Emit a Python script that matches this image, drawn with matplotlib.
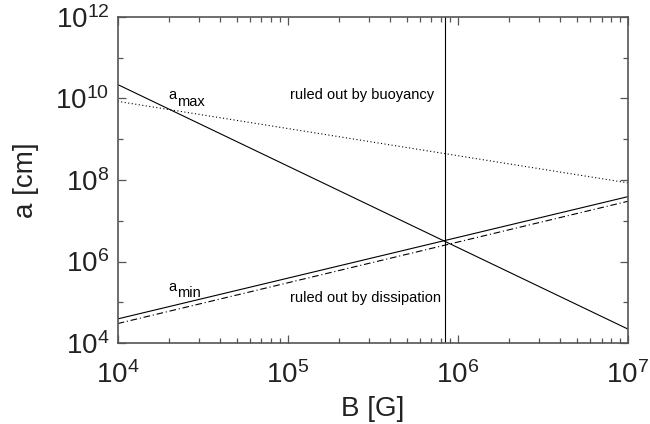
import numpy as np
import matplotlib
matplotlib.use("Agg")
import matplotlib.pyplot as plt
from matplotlib.ticker import FixedLocator, FixedFormatter, LogLocator, NullFormatter

plt.rcParams["font.family"] = ["Liberation Sans", "DejaVu Sans"]
plt.rcParams["mathtext.fontset"] = "custom"
plt.rcParams["mathtext.rm"] = "Liberation Sans"
plt.rcParams["mathtext.it"] = "Liberation Sans"

# field strength range (endpoints of the straight log-log lines)
B = [1e4, 1e7]
a_max = [2.2e10, 2.2e4]        # solid, falling
a_buoy = [8.5e9, 8.5e7]        # dotted
a_min = [3.9e4, 3.9e7]         # solid, rising
a_min_alt = [3.0e4, 3.0e7]     # dash-dot
B_crit = 8.4e5                 # vertical line

x_ticks = [1e4, 1e5, 1e6, 1e7]
x_labels = [r"$10^{4}$", r"$10^{5}$", r"$10^{6}$", r"$10^{7}$"]
y_ticks = [1e4, 1e6, 1e8, 1e10, 1e12]
y_labels = [r"$10^{4}$", r"$10^{6}$", r"$10^{8}$", r"$10^{10}$", r"$10^{12}$"]
y_minor = [1e5, 1e7, 1e9, 1e11]

fig = plt.figure(figsize=(6.5, 4.24), dpi=100)
ax = fig.add_axes([0.181, 0.191, 0.785, 0.769])

lw = 0.8
ax.plot(B, a_max, "-", color="black", lw=lw)
ax.plot(B, a_buoy, color="black", lw=lw, linestyle=(0, (1, 2.2)))
ax.plot(B, a_min, "-", color="black", lw=lw)
ax.plot(B, a_min_alt, color="black", lw=lw, linestyle=(0, (6, 2.5, 1, 2.5)))
ax.axvline(B_crit, color="black", lw=lw)

ax.set_xscale("log")
ax.set_yscale("log")
ax.set_xlim(1e4, 1e7)
ax.set_ylim(1e4, 1e12)

ax.xaxis.set_major_locator(FixedLocator(x_ticks))
ax.xaxis.set_major_formatter(FixedFormatter(x_labels))
ax.xaxis.set_minor_locator(LogLocator(base=10, subs=np.arange(2, 10)))
ax.xaxis.set_minor_formatter(NullFormatter())
ax.yaxis.set_major_locator(FixedLocator(y_ticks))
ax.yaxis.set_major_formatter(FixedFormatter(y_labels))
ax.yaxis.set_minor_locator(FixedLocator(y_minor))
ax.yaxis.set_minor_formatter(NullFormatter())

spine_col = "#555555"
for s in ax.spines.values():
    s.set_color(spine_col)
    s.set_linewidth(1.2)
ax.tick_params(which="both", direction="in", top=True, right=True,
               color=spine_col, width=0.9, labelsize=20, labelcolor="#222222")
ax.tick_params(which="major", length=6)
ax.tick_params(axis="x", which="major", pad=13)
ax.tick_params(axis="y", which="major", pad=6)
ax.tick_params(which="minor", length=3.5)

ax.set_xlabel("B [G]", fontsize=20, labelpad=5, color="#222222")
ax.set_ylabel("a [cm]", fontsize=20, labelpad=12, color="#222222")

fs = 10.5
ax.text(2.0e4, 1.2e10, "a", fontsize=fs, ha="left", va="center")
ax.text(2.24e4, 8.2e9, "max", fontsize=fs, ha="left", va="center")
ax.text(2.0e4, 2.35e5, "a", fontsize=fs, ha="left", va="center")
ax.text(2.24e4, 1.7e5, "min", fontsize=fs, ha="left", va="center")
ax.text(1.035e5, 1.2e10, "ruled out by buoyancy", fontsize=fs, ha="left", va="center")
ax.text(1.035e5, 1.26e5, "ruled out by dissipation", fontsize=fs, ha="left", va="center")

fig.savefig("out.png", dpi=100)
